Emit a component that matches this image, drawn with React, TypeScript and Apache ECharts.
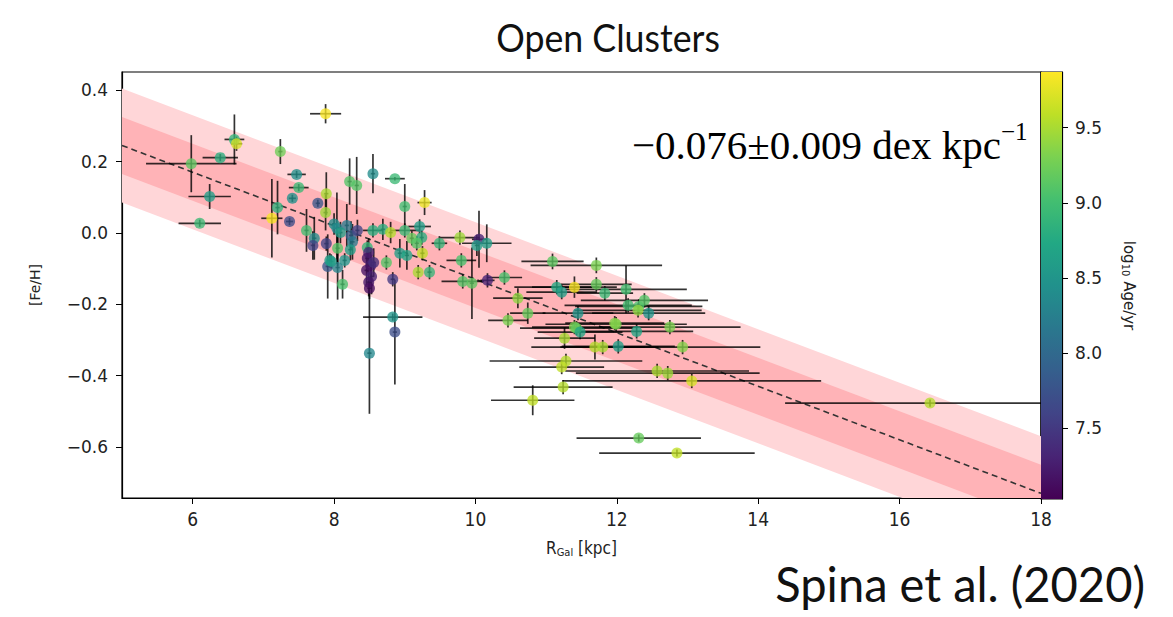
import React, { useEffect, useRef } from "react";
import * as echarts from "echarts";

// ---- data ----
const rgal = [
  5.98, 6.39, 6.59, 6.62, 6.24, 6.10, 7.88, 7.24, 7.47, 7.50,
  7.41, 7.89, 7.88, 7.20, 7.12, 7.37, 7.61, 7.77, 7.72, 7.70,
  7.89, 8.22, 8.32, 8.55, 8.86, 9.28, 9.00, 8.04, 8.18, 8.05,
  8.24, 8.33, 8.47, 8.55, 8.69, 8.80, 9.00, 9.21, 9.10, 9.24,
  9.17, 9.25, 8.74, 8.93, 9.03, 9.19, 9.35, 9.49, 9.78, 9.80,
  10.05, 10.16, 10.02, 9.82, 9.95, 10.17, 10.41, 10.60, 10.74, 10.46,
  11.09, 11.71, 11.15, 11.22, 11.40, 11.71, 11.83, 12.13, 11.45, 12.16,
  12.31, 12.39, 12.30, 12.45, 11.99, 11.40, 12.75, 11.43, 11.48, 11.26,
  11.97, 12.28, 11.69, 11.80, 12.02, 12.93, 11.28, 11.22, 12.57, 12.72,
  13.06, 11.24, 10.81, 12.31, 12.85, 16.43, 8.50, 8.83, 8.86, 8.83,
  8.12, 7.91, 8.05, 7.94, 8.15, 8.49, 8.47, 8.52, 8.46, 8.53,
  8.49, 8.50, 8.56, 8.00, 8.09, 8.26, 7.96, 8.23,
];
const feh = [
  0.194, 0.211, 0.262, 0.250, 0.102, 0.027, 0.334, 0.228, 0.164, 0.127,
  0.097, 0.110, 0.057, 0.071, 0.041, 0.032, 0.007, 0.083, -0.015, -0.035,
  -0.030, 0.144, 0.133, 0.166, 0.152, 0.085, 0.074, 0.013, 0.021, -0.043,
  -0.007, 0.007, -0.041, 0.007, 0.010, 0.001, 0.007, 0.018, -0.015, -0.013,
  -0.029, -0.057, -0.083, -0.057, -0.063, -0.110, -0.110, -0.029, -0.013, -0.077,
  -0.018, -0.029, -0.035, -0.136, -0.141, -0.133, -0.125, -0.183, -0.225, -0.245,
  -0.080, -0.091, -0.152, -0.166, -0.152, -0.144, -0.169, -0.158, -0.225, -0.203,
  -0.206, -0.189, -0.217, -0.225, -0.256, -0.264, -0.264, -0.267, -0.278, -0.295,
  -0.253, -0.276, -0.320, -0.320, -0.318, -0.320, -0.359, -0.376, -0.387, -0.393,
  -0.415, -0.432, -0.469, -0.575, -0.617, -0.477, -0.337, -0.236, -0.278, -0.130,
  -0.144, -0.094, -0.097, -0.077, -0.077, -0.055, -0.071, -0.091, -0.105, -0.122,
  -0.138, -0.155, -0.083, 0.025, 0.001, -0.025, -0.080, -0.047,
];
const rgalErr = [
  0.64, 0.25, 0.14, 0.08, 0.30, 0.30, 0.22, 0.03, 0.13, 0.14,
  0.05, 0.03, 0.03, 0.03, 0.15, 0.05, 0.03, 0.03, 0.03, 0.03,
  0.03, 0.03, 0.03, 0.03, 0.14, 0.10, 0.03, 0.03, 0.03, 0.03,
  0.03, 0.03, 0.03, 0.14, 0.03, 0.03, 0.20, 0.16, 0.03, 0.03,
  0.03, 0.03, 0.03, 0.03, 0.03, 0.03, 0.03, 0.11, 0.28, 0.21,
  0.10, 0.35, 0.03, 0.30, 0.03, 0.10, 0.25, 0.35, 0.25, 0.28,
  0.44, 0.93, 0.60, 0.50, 0.60, 0.50, 0.40, 0.86, 0.50, 0.90,
  0.90, 0.90, 0.90, 0.80, 1.00, 0.60, 1.00, 0.80, 0.60, 0.43,
  0.70, 0.80, 0.90, 0.60, 0.80, 1.10, 1.08, 0.60, 1.30, 1.30,
  1.83, 0.70, 0.59, 0.88, 1.10, 2.05, 0.03, 0.42, 0.03, 0.03,
  0.03, 0.03, 0.03, 0.03, 0.03, 0.03, 0.03, 0.03, 0.03, 0.03,
  0.03, 0.03, 0.03, 0.03, 0.03, 0.03, 0.03, 0.03,
];
const fehErr = [
  0.080, 0.010, 0.070, 0.020, 0.035, 0.010, 0.027, 0.035, 0.010, 0.010,
  0.010, 0.060, 0.050, 0.075, 0.110, 0.010, 0.060, 0.010, 0.060, 0.040,
  0.020, 0.065, 0.080, 0.055, 0.005, 0.035, 0.063, 0.100, 0.060, 0.050,
  0.040, 0.030, 0.020, 0.020, 0.030, 0.030, 0.020, 0.020, 0.020, 0.020,
  0.020, 0.020, 0.020, 0.040, 0.040, 0.020, 0.020, 0.020, 0.020, 0.020,
  0.080, 0.053, 0.030, 0.020, 0.100, 0.020, 0.020, 0.028, 0.030, 0.020,
  0.022, 0.022, 0.020, 0.020, 0.030, 0.020, 0.020, 0.067, 0.020, 0.020,
  0.020, 0.020, 0.020, 0.020, 0.020, 0.020, 0.020, 0.020, 0.020, 0.030,
  0.020, 0.020, 0.035, 0.020, 0.020, 0.020, 0.020, 0.020, 0.020, 0.020,
  0.020, 0.020, 0.042, 0.010, 0.010, 0.010, 0.170, 0.010, 0.147, 0.020,
  0.040, 0.090, 0.090, 0.020, 0.020, 0.040, 0.040, 0.050, 0.040, 0.050,
  0.040, 0.030, 0.040, 0.030, 0.030, 0.050, 0.020, 0.030,
];
const logAge = [
  9.15, 8.8, 8.9, 9.7, 8.6, 8.95, 9.85, 9.25, 8.45, 8.95,
  8.45, 9.5, 9.45, 8.85, 9.85, 7.7, 9.0, 7.8, 8.4, 7.6,
  7.6, 9.1, 9.1, 8.4, 8.95, 9.8, 9.0, 8.3, 8.2, 9.1,
  7.9, 7.6, 8.9, 8.8, 8.8, 9.55, 8.95, 8.6, 9.2, 8.8,
  9.1, 9.6, 9.1, 8.6, 8.7, 9.5, 8.9, 8.9, 9.45, 9.05,
  7.3, 8.6, 8.6, 9.1, 9.15, 7.3, 9.05, 9.4, 9.2, 9.3,
  9.15, 9.3, 8.75, 8.6, 9.85, 9.2, 8.95, 9.0, 8.5, 9.0,
  9.05, 9.1, 9.4, 8.5, 9.3, 9.3, 9.3, 9.2, 8.7, 9.5,
  9.35, 8.7, 9.55, 9.5, 8.6, 9.35, 9.55, 9.6, 9.5, 9.45,
  9.7, 9.55, 9.6, 9.2, 9.6, 9.55, 8.35, 8.5, 7.7, 7.5,
  9.05, 7.8, 8.3, 8.6, 8.5, 7.3, 7.2, 7.25, 7.15, 7.3,
  7.2, 7.1, 7.4, 8.4, 8.6, 8.2, 8.6, 8.6,
];

const xTicks = [6, 8, 10, 12, 14, 16, 18];
const yTicks = [-0.6, -0.4, -0.2, 0.0, 0.2, 0.4];
const ageTicks = [7.5, 8.0, 8.5, 9.0, 9.5];
const xRange = [5, 18];
const yRange = [-0.743, 0.451];
const ageRange = [7.03, 9.87];
const fitX = [5, 18];
const fitY = [0.245, -0.73];
const bandHalfWidths = [0.16, 0.08];

// ---- styles ----
const bandColors = ["#ffd6d8", "#ffb3b7"];
const viridis = [
  "#440154", "#482475", "#414487", "#355f8d", "#2a788e", "#21918c",
  "#22a884", "#44bf70", "#7ad151", "#bddf26", "#fde725",
];
const tickFont = "'DejaVu Sans', sans-serif";
const xTickFont = "'DejaVu Sans Condensed', 'Liberation Sans Narrow', 'DejaVu Sans', sans-serif";
const handFont = "Lato, 'Noto Sans', sans-serif";
const serifFont = "'Liberation Serif', 'Times New Roman', serif";
const minusFmt = (v: number) => (v < -1e-9 ? "\u2212" : "") + Math.abs(v).toFixed(1);

export default function App() {
  const ref = useRef<HTMLDivElement>(null);

  useEffect(() => {
    document.body.style.margin = "0";
    const chart = echarts.init(ref.current!, null, { renderer: "svg" });

    const points = rgal.map((x, i) => [x, feh[i], rgalErr[i], fehErr[i], logAge[i]]);
    const fitLine = fitX.map((x, i) => [x, fitY[i]]);
    const gradient = new echarts.graphic.LinearGradient(
      0, 1, 0, 0,
      viridis.map((c, i) => ({ offset: i / (viridis.length - 1), color: c }))
    );

    const option: any = {
      animation: false,
      backgroundColor: "#ffffff",
      grid: [
        { left: 122, right: 132, top: 72, bottom: 119, show: true, borderColor: "#000", borderWidth: 1.2, backgroundColor: "transparent" },
        { left: 1041, width: 21, top: 72, height: 427, show: true, borderColor: "#000", borderWidth: 1.2 },
      ],
      xAxis: [
        {
          type: "value", gridIndex: 0, min: xRange[0], max: xRange[1],
          axisLine: { show: true, onZero: false, lineStyle: { color: "#000", width: 1.2 } },
          axisTick: { show: true, length: 6, customValues: xTicks, lineStyle: { color: "#000" } },
          axisLabel: { customValues: xTicks, margin: 11, color: "#222", fontFamily: xTickFont, fontSize: 19 },
          splitLine: { show: false },
          name: "{r|R}{sub|Gal}{r| [kpc]}",
          nameLocation: "middle",
          nameGap: 40,
          nameTextStyle: {
            rich: {
              r: { fontFamily: xTickFont, fontSize: 17, color: "#222", lineHeight: 20, verticalAlign: "middle" },
              sub: { fontFamily: xTickFont, fontSize: 11, color: "#222", lineHeight: 12, verticalAlign: "bottom" },
            },
          },
        },
        { type: "value", gridIndex: 1, min: 0, max: 1, show: false },
      ],
      yAxis: [
        {
          type: "value", gridIndex: 0, min: yRange[0], max: yRange[1],
          axisLine: { show: true, onZero: false, lineStyle: { color: "#000", width: 1.2 } },
          axisTick: { show: true, length: 6, customValues: yTicks, lineStyle: { color: "#000" } },
          axisLabel: { customValues: yTicks, formatter: minusFmt, margin: 14, color: "#222", fontFamily: tickFont, fontSize: 17 },
          splitLine: { show: false },
          name: "[Fe/H]",
          nameLocation: "middle",
          nameGap: 80,
          nameTextStyle: { fontFamily: tickFont, fontSize: 14, color: "#222" },
        },
        {
          type: "value", gridIndex: 1, position: "right", min: ageRange[0], max: ageRange[1],
          axisLine: { show: true, onZero: false, lineStyle: { color: "#000", width: 1.2 } },
          axisTick: { show: true, length: 6, customValues: ageTicks, lineStyle: { color: "#000" } },
          axisLabel: { customValues: ageTicks, formatter: (v: number) => v.toFixed(1), margin: 13, color: "#222", fontFamily: tickFont, fontSize: 17 },
          splitLine: { show: false },
          name: "{a|log}{s|10}{a| Age/yr}",
          nameLocation: "middle",
          nameRotate: -90,
          nameGap: 58,
          nameTextStyle: {
            rich: {
              a: { fontFamily: tickFont, fontSize: 15, color: "#222", lineHeight: 18, verticalAlign: "middle" },
              s: { fontFamily: tickFont, fontSize: 10, color: "#222", lineHeight: 10, verticalAlign: "bottom" },
            },
          },
        },
      ],
      visualMap: {
        type: "continuous", show: false, min: ageRange[0], max: ageRange[1],
        dimension: 4, seriesIndex: 3, inRange: { color: viridis },
      },
      series: [
        {
          type: "custom", xAxisIndex: 0, yAxisIndex: 0, clip: true, silent: true, z: 1,
          data: bandHalfWidths.map((w) => [w]),
          encode: { x: -1, y: -1 },
          renderItem: (params: any, api: any) => {
            const w = api.value(0);
            const pts = [
              api.coord([fitX[0], fitY[0] + w]),
              api.coord([fitX[1], fitY[1] + w]),
              api.coord([fitX[1], fitY[1] - w]),
              api.coord([fitX[0], fitY[0] - w]),
            ];
            return { type: "polygon", shape: { points: pts }, style: { fill: bandColors[params.dataIndex] } };
          },
        },
        {
          type: "line", xAxisIndex: 0, yAxisIndex: 0, data: fitLine, symbol: "none", silent: true, z: 2,
          lineStyle: { color: "#333", width: 1.6, type: [6, 4] },
        },
        {
          type: "custom", xAxisIndex: 0, yAxisIndex: 0, clip: true, silent: true, z: 3,
          data: points,
          encode: { x: 0, y: 1 },
          renderItem: (params: any, api: any) => {
            const x = api.value(0), y = api.value(1), xe = api.value(2), ye = api.value(3);
            const a = api.coord([x - xe, y]), b = api.coord([x + xe, y]);
            const c = api.coord([x, y - ye]), d = api.coord([x, y + ye]);
            const st = { stroke: "rgba(0,0,0,0.8)", lineWidth: 1.7 };
            return {
              type: "group",
              children: [
                { type: "line", shape: { x1: a[0], y1: a[1], x2: b[0], y2: b[1] }, style: st },
                { type: "line", shape: { x1: c[0], y1: c[1], x2: d[0], y2: d[1] }, style: st },
              ],
            };
          },
        },
        {
          type: "scatter", xAxisIndex: 0, yAxisIndex: 0, data: points, encode: { x: 0, y: 1 },
          symbol: "circle", symbolSize: 11, z: 4, silent: true,
          itemStyle: { opacity: 0.78 },
        },
        {
          type: "custom", xAxisIndex: 1, yAxisIndex: 1, silent: true, z: 1,
          data: [[0, ageRange[0], 1, ageRange[1]]],
          encode: { x: [0, 2], y: [1, 3] },
          renderItem: (params: any, api: any) => {
            const p0 = api.coord([api.value(0), api.value(3)]);
            const p1 = api.coord([api.value(2), api.value(1)]);
            return { type: "rect", shape: { x: p0[0], y: p0[1], width: p1[0] - p0[0], height: p1[1] - p0[1] }, style: { fill: gradient } };
          },
        },
      ],
      graphic: [
        {
          type: "text", x: 608, y: 38, scaleX: 0.94,
          style: { text: "Open Clusters", fontFamily: handFont, fontSize: 38, fill: "#111", align: "center", verticalAlign: "middle" },
        },
        {
          type: "text", x: 1145, y: 583, scaleX: 0.98,
          style: { text: "Spina et al. (2020)", fontFamily: handFont, fontSize: 48, fill: "#111", align: "right", verticalAlign: "middle" },
        },
        {
          type: "text", x: 632, y: 142,
          style: {
            text: "{a|\u22120.076\u00b10.009 dex kpc}{s|\u22121}",
            align: "left", verticalAlign: "middle",
            rich: {
              a: { fontFamily: serifFont, fontSize: 41, fill: "#000", lineHeight: 46, verticalAlign: "bottom" },
              s: { fontFamily: serifFont, fontSize: 25, fill: "#000", lineHeight: 46, verticalAlign: "top" },
            },
          },
        },
      ],
    };

    chart.setOption(option);
    return () => chart.dispose();
  }, []);

  return <div ref={ref} style={{ width: 1173, height: 617 }} />;
}
